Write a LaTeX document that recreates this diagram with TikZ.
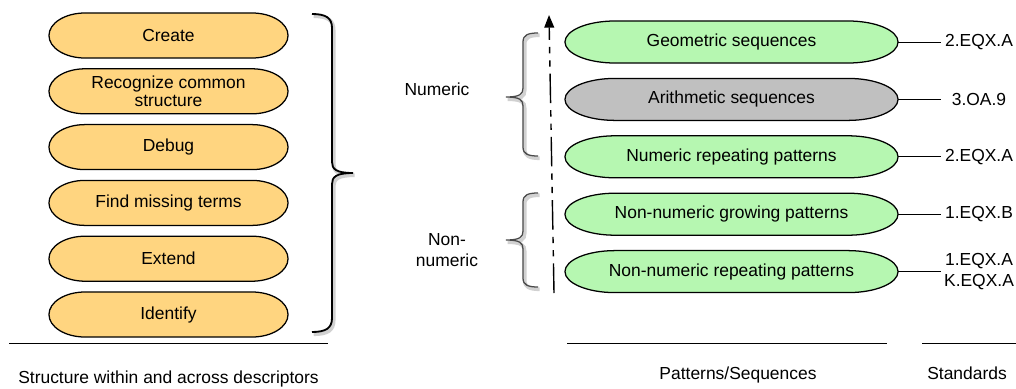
\documentclass[tikz,border=0pt]{standalone}
\usepackage{fontspec}
\setmainfont{Liberation Sans}
\usetikzlibrary{arrows.meta,positioning,calc,backgrounds}
\definecolor{Peach}{HTML}{FFD580}
\definecolor{Mint}{HTML}{B6F7B1}
\definecolor{Ash}{HTML}{C0C0C0}
\definecolor{Slate}{HTML}{4A4A4A}

\begin{document}
\begin{tikzpicture}[x=0.025cm,y=-0.025cm,
    every node/.style={font=\fontsize{12.4}{14.5}\selectfont},
    lpill/.style={minimum width=5.975cm,minimum height=1.125cm,inner sep=0pt,
      outer sep=0pt,align=center},
    rpill/.style={minimum width=8.325cm,minimum height=1.05cm,inner sep=0pt,
      outer sep=0pt},
    pillline/.style={draw=black,line width=0.9pt},
    std/.style={text width=1.9cm,align=center,inner sep=0pt},
    rule/.style={line width=0.7pt},
    shadowed/.style={preaction={draw=black!18,line width=2.6pt,
      transform canvas={xshift=1.2pt,yshift=-1.6pt}}},
    arr/.style={-{Triangle[length=9pt,width=7pt]},line width=1pt,
      dash pattern=on 21pt off 5pt on 4.5pt off 5pt on 4.5pt off 5pt}
  ]
    \useasboundingbox (0,0) rectangle (1016,388);
    % descriptors
    \foreach \i/\lab in {0/Create,1/{Recognize common\\[-1.3pt]structure},2/Debug,
      3/Find missing terms,4/Extend,5/Identify}{
      \node[lpill] (d\i) at (168.5,{35.5+55.8*\i}) {\lab};
    }
    % patterns and sequences
    \foreach \i/\lab in {0/Geometric sequences,1/Arithmetic sequences,
      2/Numeric repeating patterns,3/Non-numeric growing patterns,
      4/Non-numeric repeating patterns}{
      \node[rpill] (p\i) at (731.5,{42+57.4*\i}) {\lab};
    }
    \begin{pgfonlayer}{background}
      \foreach \n in {d0,d1,d2,d3,d4,d5}{
        \draw[pillline,fill=Peach] ($(\n.north west)+(36,0)$) -- ($(\n.north east)-(36,0)$)
          arc[start angle=90,end angle=-90,x radius=0.9cm,y radius=0.5625cm]
          -- ($(\n.south west)+(36,0)$)
          arc[start angle=270,end angle=90,x radius=0.9cm,y radius=0.5625cm] -- cycle;
      }
      \foreach \n/\col in {p0/Mint,p1/Ash,p2/Mint,p3/Mint,p4/Mint}{
        \draw[pillline,fill=\col] ($(\n.north west)+(50,0)$) -- ($(\n.north east)-(50,0)$)
          arc[start angle=90,end angle=-90,x radius=1.25cm,y radius=0.525cm]
          -- ($(\n.south west)+(50,0)$)
          arc[start angle=270,end angle=90,x radius=1.25cm,y radius=0.525cm] -- cycle;
      }
    \end{pgfonlayer}
    % standards
    \foreach \i/\lab in {0/2.EQX.A,1/3.OA.9,2/2.EQX.A,3/1.EQX.B,4/{1.EQX.A\\K.EQX.A}}{
      \node[std] (s\i) at (979,{42+57.4*\i}) {\lab};
      \draw[rule] (p\i.east) -- (s\i.west);
    }
    % big brace
    \draw[line width=1.3pt,shadowed] (312,14) .. controls (326,14) and (332,18) .. (332,28)
      -- (332,162) .. controls (332,169) and (336,173) .. (353,173)
      .. controls (336,173) and (332,177) .. (332,184) -- (332,318)
      .. controls (332,328) and (326,332) .. (312,332);
    % small braces
    \foreach \t/\m/\b in {33/97/156,193/240/287}{
      \draw[Slate,line width=0.9pt,shadowed] (538,\t) .. controls (528,\t) and (523,{\t+2}) .. (523,{\t+9})
        -- (523,{\m-9}) .. controls (523,{\m-3}) and (520,\m) .. (506,\m)
        .. controls (520,\m) and (523,{\m+3}) .. (523,{\m+9}) -- (523,{\b-9})
        .. controls (523,{\b-2}) and (528,\b) .. (538,\b);
    }
    \node (num) at (437,89) {Numeric};
    \node[align=center] (nonnum) at (447,250) {Non-\\numeric};
    % order axis
    \coordinate (ax0) at (554,293);
    \coordinate (ax1) at (549,15);
    \draw[arr] (ax0) -- (ax1);
    % column rules and captions
    \draw[rule] (9,343) -- (328,343);
    \draw[rule] (567,343) -- (887,343);
    \draw[rule] (922,343) -- (1016,343);
    \node[anchor=base] (cap1) at (168.5,383.5) {Structure within and across descriptors};
    \node[anchor=base] (cap2) at (738,379) {Patterns/Sequences};
    \node[anchor=base] (cap3) at (967,379) {Standards};
\end{tikzpicture}
\end{document}
